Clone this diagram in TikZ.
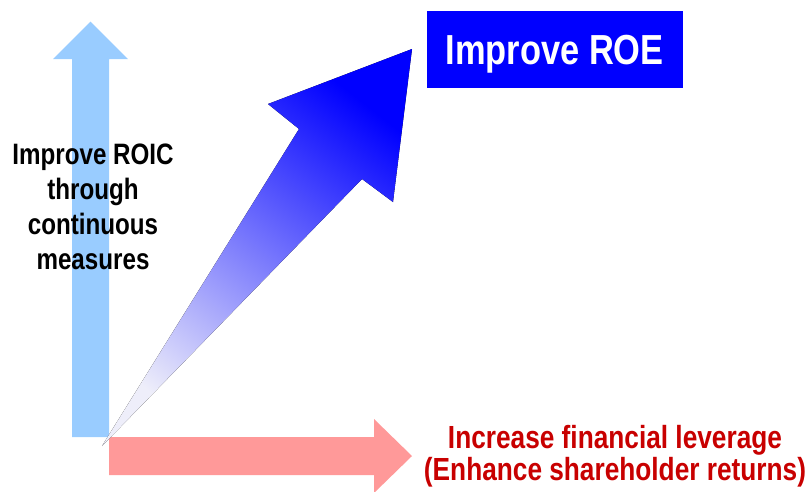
\documentclass[tikz,border=0pt]{standalone}
\usepackage{fontspec}
\setmainfont{Liberation Sans}[FakeStretch=0.82]
\usetikzlibrary{positioning}
\usetikzlibrary{calc}
\definecolor{roicblue}{RGB}{153,204,255}
\definecolor{leverred}{RGB}{255,153,153}
\definecolor{roeblue}{RGB}{0,0,255}
\definecolor{tailblue}{RGB}{238,238,250}
\definecolor{levertext}{RGB}{200,0,0}
\tikzset{
  block/.style      = { draw=none },
  upblock/.style    = { block, fill=roicblue },
  rightblock/.style = { block, fill=leverred },
  slantblock/.style = { block, top color=roeblue, bottom color=tailblue, shading angle=-38 },
}
\tikzset{
  goal/.style       = { rectangle, fill=roeblue, text=white, text depth=0pt,
                        minimum width=256pt, minimum height=77pt,
                        font=\bfseries\fontsize{42}{48}\selectfont },
  measure/.style    = { align=center, inner sep=0pt,
                        font=\bfseries\fontsize{29.5}{35}\selectfont },
  leverage/.style   = { align=center, inner sep=0pt, text=levertext,
                        font=\bfseries\fontsize{32}{32}\selectfont },
}

\begin{document}
\begin{tikzpicture}[x=1pt,y=-1pt]
  \useasboundingbox (0,0) rectangle (811,491);

  \coordinate (corner) at (109,437);
  \coordinate (tail)   at (102,446);

  % ROIC arrow (up)
  \fill [upblock] (72,437) -- (72,59) -- (53,59) -- (90.5,21.7)
        -- (128,59) -- (109,59) -- (corner) -- cycle;

  % leverage arrow (right)
  \fill [rightblock] (corner) -- (374,437) -- (374,419) -- (412,456)
        -- (374,493) -- (374,475) -- (109,475) -- cycle;

  % ROE arrow (slanted)
  \fill [slantblock] (tail) -- (299,129) -- (268,104) -- (412,49)
        -- (393,202) -- (362,179) -- cycle;

  \node (roe)   [goal]     at (554.7,49.7)  {Improve ROE};
  \node (roic)  [measure]  at (93,206.5)    {Improve ROIC\\through\\continuous\\measures};
  \node (lever) [leverage] at (615,456)     {Increase financial leverage\\(Enhance shareholder returns)};

\end{tikzpicture}
\end{document}
